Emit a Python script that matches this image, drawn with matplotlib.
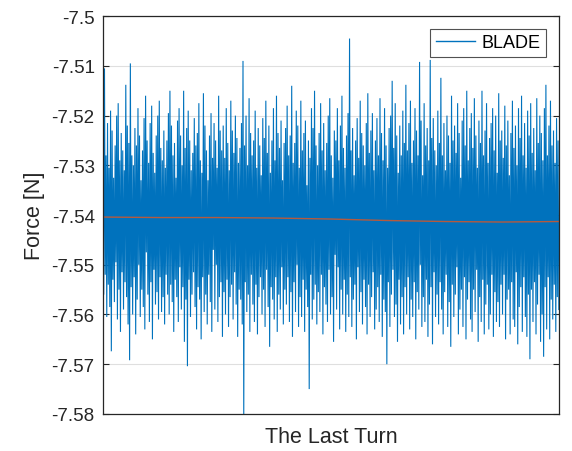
import numpy as np
import matplotlib.pyplot as plt

# Blade force over the last turn, kept as per-column peaks (hi/lo)
# in units of 1e-4 N relative to FORCE_BASE.
FORCE_BASE = -7.54

PEAK_HI = [
    150, 295, 120, 185, 95, 210, 170, 75, 140, 200, 225, 110, 165, 130, 90, 262, 180, 145, 305, 120,
    100, 175, 140, 215, 160, 70, 130, 195, 240, 150, 105, 185, 220, 125, 85, 160, 200, 230, 135, 110,
    170, 95, 150, 205, 250, 180, 120, 145, 75, 190, 215, 160, 100, 250, 135, 175, 210, 150, 90, 125,
    195, 140, 165, 225, 110, 85, 245, 180, 130, 70, 160, 205, 115, 185, 150, 95, 240, 170, 130, 180,
    115, 215, 145, 90, 230, 170, 125, 200, 155, 105, 135, 185, 310, 140, 200, 100, 235, 165, 120, 150,
    210, 95, 175, 140, 80, 195, 155, 230, 125, 180, 85, 150, 215, 110, 240, 165, 135, 190, 70, 145,
    175, 220, 120, 160, 260, 105, 145, 210, 180, 95, 230, 130, 165, 190, 60, 150, 115, 215, 175, 250,
    140, 100, 165, 225, 130, 185, 90, 145, 200, 235, 120, 75, 170, 150, 215, 110, 180, 240, 135, 95,
    160, 205, 355, 130, 175, 80, 150, 195, 115, 230, 165, 140, 100, 185, 245, 125, 170, 205, 90, 150,
    195, 120, 235, 165, 110, 215, 140, 95, 175, 200, 270, 135, 225, 160, 85, 180, 120, 210, 145, 262,
    130, 185, 230, 105, 150, 215, 170, 120, 308, 190, 80, 225, 140, 175, 110, 312, 155, 195, 130, 100,
    210, 145, 276, 120, 185, 90, 200, 160, 105, 240, 150, 180, 125, 225, 165, 75, 190, 215, 140, 250,
    110, 175, 205, 135, 235, 160, 95, 190, 145, 250, 120, 170, 225, 105, 155, 185, 215, 130, 200, 85,
    245, 150, 170, 115, 220, 140, 190, 80, 165, 230, 135, 180, 100, 215, 155, 240, 120, 185, 95, 210,
    160, 225, 125, 175, 90, 235, 145, 200, 165, 110, 215, 262, 120, 180, 230, 140, 170, 105, 195, 150,
]

PEAK_LO = [
    -160, -120, -205, -140, -185, -274, -130, -175, -95, -210, -150, -235, -115, -190, -135, -165, -220, -292, -145, -200,
    -125, -240, -170, -100, -205, -150, -185, -230, -75, -160, -215, -135, -250, -110, -180, -155, -210, -125, -195, -165,
    -220, -120, -160, -200, -140, -175, -235, -130, -165, -215, -105, -190, -145, -255, -170, -304, -130, -205, -160, -115,
    -185, -230, -145, -170, -250, -125, -195, -160, -220, -120, -175, -235, -70, -190, -100, -215, -165, -135, -245, -155,
    -200, -130, -225, -165, -140, -210, -115, -180, -245, -150, -170, -220, -405, -135, -195, -160, -235, -120, -180, -215,
    -140, -240, -165, -125, -200, -150, -225, -110, -185, -265, -145, -170, -210, -125, -235, -160, -190, -105, -220, -150,
    -180, -125, -215, -155, -245, -135, -195, -100, -225, -165, -205, -130, -235, -150, -185, -350, -120, -210, -170, -140,
    -220, -155, -195, -120, -240, -145, -180, -215, -110, -200, -165, -255, -80, -190, -105, -230, -150, -200, -130, -235,
    -160, -205, -125, -225, -170, -140, -250, -105, -195, -155, -220, -130, -185, -240, -140, -205, -165, -115, -230, -190,
    -145, -215, -120, -245, -170, -195, -300, -135, -225, -160, -110, -205, -180, -255, -130, -220, -165, -240, -145, -200,
    -125, -230, -170, -205, -135, -250, -155, -190, -100, -225, -165, -215, -130, -245, -180, -145, -260, -115, -205, -160,
    -220, -135, -190, -240, -155, -120, -225, -175, -265, -140, -205, -160, -105, -240, -190, -150, -225, -125, -250, -170,
    -135, -210, -235, -150, -195, -110, -255, -165, -215, -130, -240, -180, -140, -230, -200, -120, -245, -155, -215, -175,
    -225, -140, -200, -120, -250, -170, -150, -240, -135, -210, -225, -115, -260, -185, -145, -235, -125, -205, -245, -160,
    -290, -150, -215, -135, -240, -180, -120, -255, -200, -285, -145, -230, -125, -250, -170, -210, -140, -235, -165, -190,
]

# slow running mean of the force, sampled at evenly spaced points
MEAN_FORCE = [-7.5404, -7.5405, -7.5405, -7.5406, -7.5408, -7.5411, -7.5413, -7.5414, -7.5413]

BLUE = "#0072BD"
MEAN_COLOR = "#B55A3E"
AX_COLOR = "#262626"


def build_trace(hi, lo):
    # zigzag hi -> lo -> hi ... so every column spans its full range
    n = len(hi)
    t = np.arange(n, dtype=float)
    x = np.empty(2 * n)
    y = np.empty(2 * n)
    x[0::2] = t
    x[1::2] = t + 0.5
    y[0::2] = FORCE_BASE + np.array(hi) * 1e-4
    y[1::2] = FORCE_BASE + np.array(lo) * 1e-4
    return x, y


def main():
    plt.rcParams["font.family"] = ["Liberation Sans", "DejaVu Sans"]

    fig = plt.figure(figsize=(5.72, 4.52), dpi=100)
    ax = fig.add_axes([0.180, 0.082, 0.797, 0.880])

    x, y = build_trace(PEAK_HI, PEAK_LO)
    ax.plot(x, y, color=BLUE, lw=0.8, label="BLADE", solid_joinstyle="miter")

    xm = np.linspace(x[0], x[-1], len(MEAN_FORCE))
    ax.plot(xm, MEAN_FORCE, color=MEAN_COLOR, lw=1.0)

    ax.set_xlim(x[0], x[-1])
    ax.set_ylim(-7.58, -7.5)
    ticks = np.round(np.arange(-7.58, -7.4999, 0.01), 2)
    ax.set_yticks(ticks)
    ax.set_yticklabels([f"{v:g}" for v in ticks])
    ax.set_xticks([])

    ax.grid(axis="y", color="#DFDFDF", lw=0.8)
    ax.set_axisbelow(True)
    ax.tick_params(axis="y", direction="in", length=4, width=0.8,
                   colors=AX_COLOR, labelsize=13.5, right=True, pad=6)
    for s in ax.spines.values():
        s.set_color(AX_COLOR)
        s.set_linewidth(0.9)

    ax.set_ylabel("Force [N]", fontsize=15.5, color=AX_COLOR, labelpad=5)
    ax.set_xlabel("The Last Turn", fontsize=15.5, color=AX_COLOR, labelpad=9)

    leg = ax.legend(loc="upper right", fontsize=13, frameon=True, fancybox=False,
                    handlelength=2.2, borderpad=0.3, handletextpad=0.35,
                    borderaxespad=0.7)
    leg.get_frame().set_edgecolor(AX_COLOR)
    leg.get_frame().set_linewidth(0.8)
    leg.get_lines()[0].set_linewidth(1.0)

    fig.savefig("out.png", dpi=100)


if __name__ == "__main__":
    main()
